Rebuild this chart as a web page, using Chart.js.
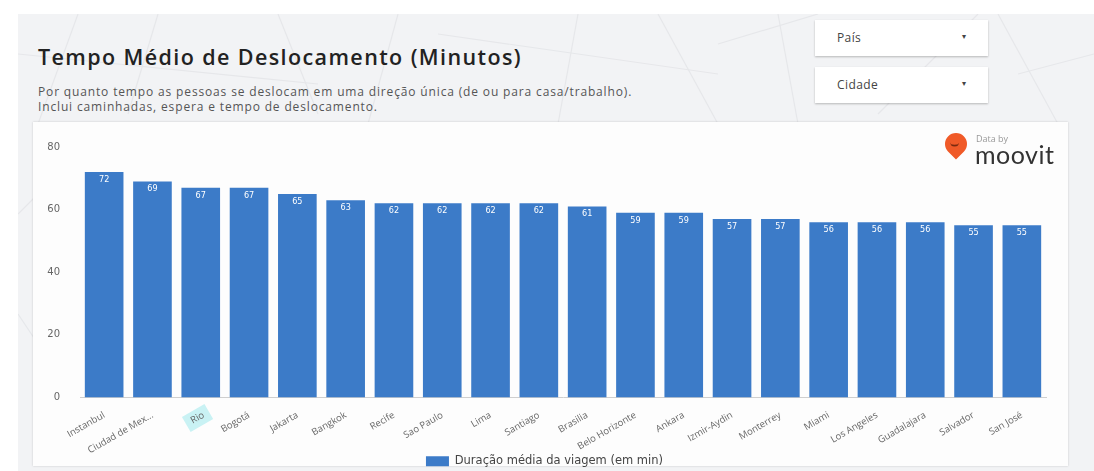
<!DOCTYPE html>
<html>
<head>
<meta charset="utf-8">
<script src="https://cdn.jsdelivr.net/npm/chart.js@4"></script>
<style>
  html, body { margin: 0; padding: 0; }
  body {
    width: 1094px; height: 471px; overflow: hidden; position: relative;
    background: #fff; font-family: "Open Sans", sans-serif;
  }
  #page {
    position: absolute; left: 18px; top: 14px; width: 1076px; height: 457px;
    background: #f2f3f5;
  }
  #page svg { position: absolute; left: 0; top: 0; }
  h1 {
    position: absolute; left: 38px; top: 42px; margin: 0;
    font-family: "Open Sans", sans-serif; font-weight: 600; font-size: 21.5px;
    color: #222; letter-spacing: 1.4px;
  }
  .sub {
    position: absolute; left: 38px; top: 84px; margin: 0;
    font-size: 12px; line-height: 15px; color: #555; letter-spacing: 0.85px;
  }
  .drop {
    position: absolute; left: 815px; width: 173px; height: 36px;
    background: #fff; box-shadow: 0 1px 2px rgba(0,0,0,0.25);
    font-size: 12px; color: #444; letter-spacing: 0.4px;
  }
  .drop span { position: absolute; left: 22px; top: 9px; }
  .drop i { position: absolute; right: 22px; top: 10px; font-style: normal; font-size: 8px; }
  #panel {
    position: absolute; left: 33px; top: 122px; width: 1035px; height: 344px;
    background: #fdfdfd; box-shadow: 0 0 2px rgba(0,0,0,0.18);
  }
  #logo { position: absolute; left: 944px; top: 132px; width: 115px; height: 40px; }
  .pin {
    position: absolute; left: 1px; top: 1px; width: 22px; height: 22px;
    background: #f05a28; border-radius: 50% 50% 50% 0; transform: rotate(-45deg);
  }
  .pin b {
    position: absolute; left: 6px; top: 6px; width: 9px; height: 5px;
    border-bottom: 2px solid #7a2a10; border-radius: 0 0 8px 8px; transform: rotate(45deg);
  }
  .databy { position: absolute; left: 32px; top: 0px; font-size: 9px; color: #999; }
  .moovit { position: absolute; left: 31px; top: 7px; font-size: 25px; color: #333; letter-spacing: 0.5px; font-family: "Lato", sans-serif; }
  #wrap { position: absolute; left: 33px; top: 122px; width: 1035px; height: 355px; }
</style>
</head>
<body>
<div id="page">
  <svg width="1076" height="457">
    <g stroke="#e6e7ea" stroke-width="1.2" fill="none">
      <path d="M60 0 L20 110"/><path d="M140 0 L110 100"/><path d="M0 40 L300 70"/>
      <path d="M260 0 L300 100"/><path d="M380 0 L350 110"/><path d="M420 20 L700 60"/>
      <path d="M560 0 L540 110"/><path d="M640 0 L700 110"/><path d="M700 30 L800 0"/>
      <path d="M760 0 L780 110"/><path d="M860 100 L960 0"/><path d="M980 0 L1040 110"/>
      <path d="M1000 60 L1076 40"/><path d="M0 200 L20 180"/><path d="M0 300 L20 330"/>
    </g>
  </svg>
</div>
<h1>Tempo Médio de Deslocamento (Minutos)</h1>
<p class="sub">Por quanto tempo as pessoas se deslocam em uma direção única (de ou para casa/trabalho).<br>Inclui caminhadas, espera e tempo de deslocamento.</p>
<div class="drop" style="top:20px"><span>País</span><i>▾</i></div>
<div class="drop" style="top:67px"><span>Cidade</span><i>▾</i></div>
<div id="panel"></div>
<div id="wrap"><canvas id="commuteChart" width="1035" height="355"></canvas></div>
<div id="logo">
  <div class="pin"><b></b></div>
  <div class="databy">Data by</div>
  <div class="moovit">moovit</div>
</div>
<script>
  const cities = ['Instanbul', 'Ciudad de Mex...', 'Rio', 'Bogotá', 'Jakarta', 'Bangkok', 'Recife',
    'Sao Paulo', 'Lima', 'Santiago', 'Brasilia', 'Belo Horizonte', 'Ankara', 'Izmir-Aydin',
    'Monterrey', 'Miami', 'Los Angeles', 'Guadalajara', 'Salvador', 'San José'];
  const minutes = [72, 69, 67, 67, 65, 63, 62, 62, 62, 62, 61, 59, 59, 57, 57, 56, 56, 56, 55, 55];
  const yTicks = [0, 20, 40, 60, 80];
  const highlighted = 'Rio';

  // white value labels at the top of each bar
  const barValues = {
    id: 'barValues',
    afterDatasetsDraw(chart) {
      const ctx = chart.ctx;
      const meta = chart.getDatasetMeta(0);
      ctx.save();
      ctx.fillStyle = '#ffffff';
      ctx.font = '9px "DejaVu Sans Condensed", sans-serif';
      ctx.textAlign = 'center';
      ctx.textBaseline = 'top';
      meta.data.forEach((bar, i) => {
        ctx.fillText(String(minutes[i]), bar.x, bar.y + 3);
      });
      ctx.restore();
    }
  };

  new Chart(document.getElementById('commuteChart'), {
    type: 'bar',
    data: {
      labels: cities,
      datasets: [{
        label: 'Duração média da viagem (em min)',
        data: minutes,
        backgroundColor: '#3c7bc8',
        categoryPercentage: 0.8,
        barPercentage: 1
      }]
    },
    options: {
      responsive: false,
      animation: false,
      layout: { padding: { left: 10, right: 22, top: 25, bottom: 0 } },
      plugins: {
        legend: {
          position: 'bottom',
          labels: {
            boxWidth: 23, boxHeight: 10, padding: 2,
            color: '#444',
            font: { size: 11.5, family: '"DejaVu Sans", sans-serif' }
          }
        },
        tooltip: { enabled: false }
      },
      scales: {
        x: {
          grid: { display: false },
          border: { display: true, color: '#cfcfcf' },
          ticks: {
            color: '#666',
            font: { size: 9.5, family: '"Open Sans", sans-serif' },
            maxRotation: 30, minRotation: 30,
            autoSkip: false, padding: 4,
            showLabelBackdrop: (c) => cities[c.index] === highlighted,
            backdropColor: (c) => cities[c.index] === highlighted ? '#c9f2f4' : 'rgba(0,0,0,0)',
            backdropPadding: { x: 6, y: 3 }
          },
          afterFit(scale) { scale.height = 56; }
        },
        y: {
          min: 0, max: 80,
          grid: { display: false },
          border: { display: false },
          afterBuildTicks(scale) { scale.ticks = yTicks.map(v => ({ value: v })); },
          ticks: {
            color: '#666', padding: 12,
            font: { size: 10, family: '"DejaVu Sans", sans-serif' }
          },
          afterFit(scale) { scale.width = 37; }
        }
      }
    },
    plugins: [barValues]
  });
</script>
</body>
</html>
